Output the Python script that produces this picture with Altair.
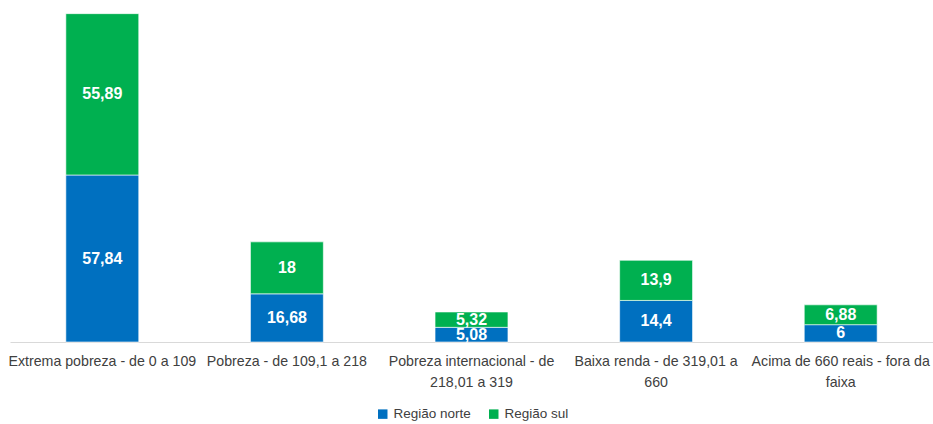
import altair as alt
import pandas as pd

categories = [
    "Extrema pobreza - de 0 a 109",
    "Pobreza - de 109,1 a 218",
    "Pobreza internacional - de\n218,01 a 319",
    "Baixa renda - de 319,01 a\n660",
    "Acima de 660 reais - fora da\nfaixa",
]
series = ["Região norte", "Região sul"]
norte = [57.84, 16.68, 5.08, 14.4, 6]
sul = [55.89, 18, 5.32, 13.9, 6.88]
colors = ["#0070C0", "#00B050"]

rows = []
for i, c in enumerate(categories):
    for j, (s, vals) in enumerate(zip(series, [norte, sul])):
        v = vals[i]
        rows.append({"cat": c, "serie": s, "value": v, "ord": j,
                     "lbl": f"{v:g}".replace(".", ",")})
df = pd.DataFrame(rows)

FONT = "Liberation Sans, Arial, sans-serif"

x = alt.X("cat:N", sort=categories, title=None,
          scale=alt.Scale(paddingInner=0.605, paddingOuter=0.3025),
          axis=alt.Axis(labelExpr="split(datum.label, '\\n')", labelAngle=0,
                        ticks=False, domainColor="#D9D9D9", domainWidth=1,
                        labelFont=FONT, labelLimit=0,
                        labelFontSize=14.2, labelColor="#404040", labelLineHeight=21,
                        labelPadding=12, labelBaseline="top", grid=False))

base = alt.Chart(df)

bars = base.mark_bar(stroke="white", strokeWidth=0.6).encode(
    x=x,
    y=alt.Y("value:Q", stack="zero", scale=alt.Scale(domain=[0, 114.3], nice=False),
            axis=None),
    color=alt.Color("serie:N", scale=alt.Scale(domain=series, range=colors),
                    legend=alt.Legend(title=None, orient="none", legendX=366, legendY=395,
                                      direction="horizontal", symbolType="square",
                                      symbolSize=90, symbolStrokeWidth=0,
                                      labelFont=FONT,
                                      labelFontSize=13.5, labelColor="#404040",
                                      columnPadding=16, symbolOffset=0, labelOffset=4)),
    order=alt.Order("ord:Q"),
)

labels = base.transform_stack(
    stack="value", groupby=["cat"], as_=["y0", "y1"], sort=[alt.SortField("ord")]
).transform_calculate(
    mid="(datum.y0 + datum.y1) / 2"
).mark_text(color="white", fontWeight="bold", fontSize=16,
            font=FONT, baseline="middle").encode(
    x=alt.X("cat:N", sort=categories),
    y=alt.Y("mid:Q"),
    text="lbl:N",
)

chart = alt.layer(bars, labels).properties(
    width=923, height=330,
    autosize=alt.AutoSizeParams(type="none"),
    padding={"left": 10, "top": 12, "right": 0, "bottom": 82},
).configure_view(stroke=None)

chart.save("out.html", embed_options={"renderer": "svg", "actions": False})
